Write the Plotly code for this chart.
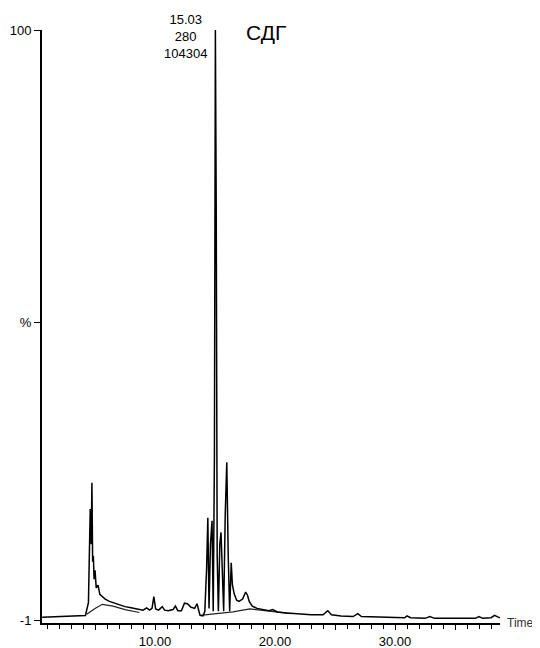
import plotly.graph_objects as go

# chromatogram trace (time in min, relative intensity in %)
time_min = [0.6, 2.5, 4.2, 4.45, 4.6, 4.68, 4.74, 4.8, 4.86, 4.92, 5.0, 5.1, 5.25, 5.4, 5.6,
            5.85, 6.2, 6.6, 7.0, 7.5, 8.0, 8.5, 9.0, 9.3, 9.55, 9.75, 9.9, 10.05, 10.3, 10.6,
            10.8, 11.1, 11.5, 11.7, 11.9, 12.2, 12.45, 12.7, 13.0, 13.15, 13.3, 13.5, 13.75,
            14.0, 14.15, 14.3, 14.4, 14.5, 14.62, 14.75, 14.85, 14.95, 15.03, 15.1, 15.18,
            15.28, 15.4, 15.5, 15.6, 15.72, 15.85, 15.98, 16.1, 16.22, 16.35, 16.45, 16.6,
            16.8, 17.0, 17.3, 17.55, 17.7, 17.85, 18.1, 18.5, 19.0, 19.5, 19.8, 20.2, 21.0,
            22.0, 23.0, 24.0, 24.4, 24.7, 25.5, 26.5, 26.9, 27.2, 28.5, 29.5, 30.8, 31.0,
            31.3, 32.5, 32.9, 33.3, 35.0, 36.7, 37.0, 37.3, 38.0, 38.3, 38.6, 38.75]
intensity = [-0.5, -0.4, -0.2, 2, 18, 12, 22.5, 9, 10, 6, 7.5, 4.5, 5, 3.4, 3.0,
             2.6, 2.2, 1.9, 1.6, 1.3, 1.1, 0.9, 0.7, 1.1, 0.7, 1.0, 3.0, 0.9, 0.7, 1.3,
             0.7, 0.6, 0.8, 1.4, 0.6, 0.6, 1.9, 1.8, 1.2, 1.1, 1.0, 1.8, -0.2,
             -0.3, 0.5, 8, 16.5, 1, 12, 16, 0.5, 27, 100, 70, 10,
             0.5, 12, 14, 8, 0.5, 17, 26, 10, 0.5, 8.8, 5, 3.5,
             2.4, 2.2, 2.6, 3.8, 3.3, 2.2, 1.4, 1.0, 0.8, 0.6, 0.8, 0.4, 0.2,
             0.0, -0.1, -0.1, 0.6, -0.1, -0.3, -0.4, 0.1, -0.4, -0.5, -0.6, -0.6, -0.3,
             -0.6, -0.7, -0.4, -0.7, -0.7, -0.7, -0.4, -0.7, -0.6, -0.2, -0.5, -0.6]

# integration baselines under the peak groups
base_time = [4.3, 5.0, 5.6, 6.5, 7.5, 8.7, None, 13.75, 15.0, 16.5, 17.9, 19.5, 21.3]
base_int = [0.0, 1.0, 1.7, 1.4, 0.8, 0.3, None, -0.2, 0.1, 0.4, 0.9, 0.5, 0.1]

x_ticks = [5, 10, 15, 20, 25, 30, 35]
x_labels = ["", "10.00", "", "20.00", "", "30.00", ""]
y_ticks = [-1, 50, 100]
y_labels = ["-1", "%", "100"]

fig = go.Figure()
fig.add_trace(go.Scatter(x=base_time, y=base_int, mode="lines",
                         line=dict(color="#222", width=1.2), connectgaps=False))
fig.add_trace(go.Scatter(x=time_min, y=intensity, mode="lines",
                         line=dict(color="black", width=1.5)))

font = "Liberation Sans, Arial, sans-serif"
fig.add_annotation(x=15.03, xref="x", y=1.034, yref="paper", xanchor="center", yanchor="top",
                   xshift=-30, showarrow=False, align="center",
                   text="15.03<br>280<br>104304", font=dict(family=font, size=13, color="black"))
fig.add_annotation(x=0.44, xref="paper", y=0.995, yref="paper", xanchor="left", yanchor="middle",
                   showarrow=False, text="СДГ", font=dict(family=font, size=21, color="black"))
fig.add_annotation(x=1, xref="paper", y=-1.5, yref="y", xanchor="left", yanchor="middle",
                   xshift=5, showarrow=False, text="Time",
                   font=dict(family=font, size=12, color="#333"))

# page body adds an 8px offset, margins are shifted to compensate
fig.update_layout(
    width=540, height=648,
    margin=dict(l=34, r=48, t=22, b=33, autoexpand=False),
    paper_bgcolor="white", plot_bgcolor="white",
    showlegend=False,
    font=dict(family=font, size=13, color="black"),
    xaxis=dict(range=[0.58, 38.75], showgrid=False, zeroline=False, automargin=False,
               showline=True, linecolor="black", linewidth=2,
               tickvals=x_ticks, ticktext=x_labels, ticks="outside", ticklen=5,
               tickcolor="black", tickwidth=1, tickfont=dict(size=13),
               minor=dict(dtick=1, tick0=0, ticks="outside", ticklen=4, tickcolor="black")),
    yaxis=dict(range=[-1.5, 100], showgrid=False, zeroline=False, automargin=False,
               showline=True, linecolor="black", linewidth=2,
               tickvals=y_ticks, ticktext=y_labels, ticks="outside", ticklen=6,
               tickcolor="black", tickfont=dict(size=13)),
)

fig.write_html("out.html")
